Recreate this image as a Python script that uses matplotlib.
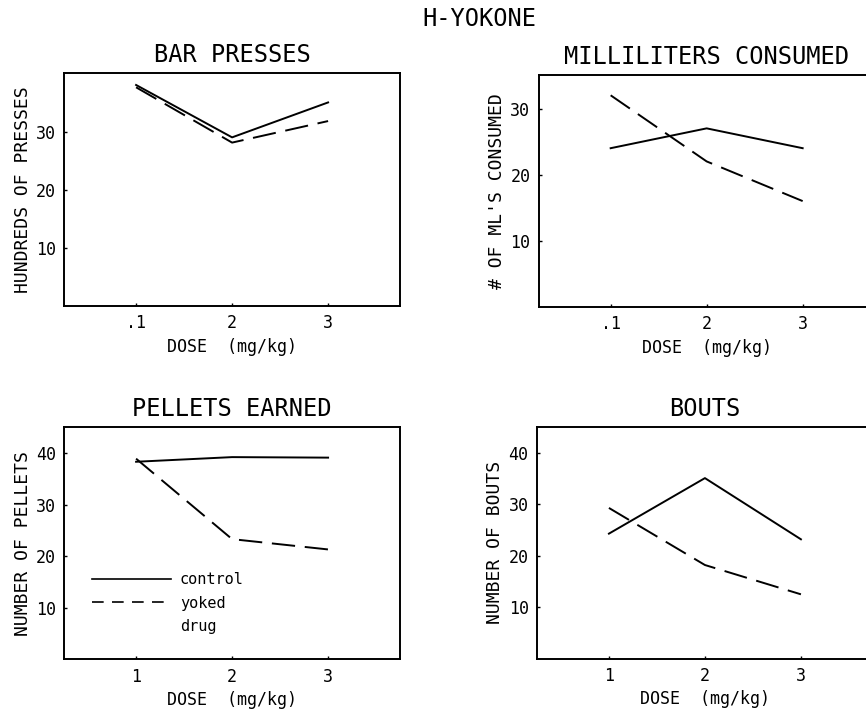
import matplotlib.pyplot as plt
from matplotlib.lines import Line2D

plt.rcParams['font.family'] = ['DejaVu Sans Mono']

dose = [1, 2, 3]

press_control = [38, 29, 35]
press_yoked = [37.6, 28.1, 31.8]

ml_control = [24, 27, 24]
ml_yoked = [32, 22, 16]

pellet_control = [38.3, 39.2, 39.1]
pellet_yoked = [38.9, 23.3, 21.3]

bout_control = [24.3, 35.1, 23.2]
bout_yoked = [29.3, 18.2, 12.5]

top_xlabels = [".1", "2", "3"]
bottom_xlabels = ["1", "2", "3"]

fig = plt.figure(figsize=(8.66, 7.12), dpi=100)
fig.text(0.554, 0.974, "H-YOKONE", ha="center", va="center", fontsize=17)

panels = [
    # rect, title, ylabel, control, yoked, ylim, yticks, xlabels
    ([0.074, 0.570, 0.388, 0.327], "BAR PRESSES", "HUNDREDS OF PRESSES",
     press_control, press_yoked, 40, [10, 20, 30], top_xlabels),
    ([0.622, 0.569, 0.388, 0.325], "MILLILITERS CONSUMED", "# OF ML'S CONSUMED",
     ml_control, ml_yoked, 35, [10, 20, 30], top_xlabels),
    ([0.074, 0.074, 0.388, 0.326], "PELLETS EARNED", "NUMBER OF PELLETS",
     pellet_control, pellet_yoked, 45, [10, 20, 30, 40], bottom_xlabels),
    ([0.620, 0.075, 0.388, 0.325], "BOUTS", "NUMBER OF BOUTS",
     bout_control, bout_yoked, 45, [10, 20, 30, 40], bottom_xlabels),
]

axes = []
for rect, title, ylabel, ctrl, yoked, ytop, yticks, xlabels in panels:
    ax = fig.add_axes(rect)
    ax.plot(dose, ctrl, color="black", lw=1.4, label="control")
    ax.plot(dose, yoked, color="black", lw=1.4, dashes=(12, 5), label="yoked")
    ax.set_xlim(0.25, 3.75)
    ax.set_ylim(0, ytop)
    ax.set_xticks(dose)
    ax.set_xticklabels(xlabels)
    ax.set_yticks(yticks)
    ax.tick_params(direction="in", length=2, width=1, labelsize=12, pad=6)
    for s in ax.spines.values():
        s.set_linewidth(1.4)
    ax.set_title(title, fontsize=17, pad=8)
    ax.set_xlabel("DOSE  (mg/kg)", fontsize=12, labelpad=4)
    ax.set_ylabel(ylabel, fontsize=13, labelpad=3)
    axes.append(ax)

handles = [Line2D([], [], color="black", lw=1.2),
           Line2D([], [], color="black", lw=1.2, dashes=(7, 5)),
           Line2D([], [], linestyle="none")]
axes[2].legend(handles, ["control", "yoked", "drug"], loc="upper left",
               bbox_to_anchor=(0.083, 0.375), frameon=False, fontsize=11,
               handlelength=5.2, handletextpad=0.55, labelspacing=0.55,
               borderpad=0, borderaxespad=0)

fig.savefig("out.png", dpi=100)
